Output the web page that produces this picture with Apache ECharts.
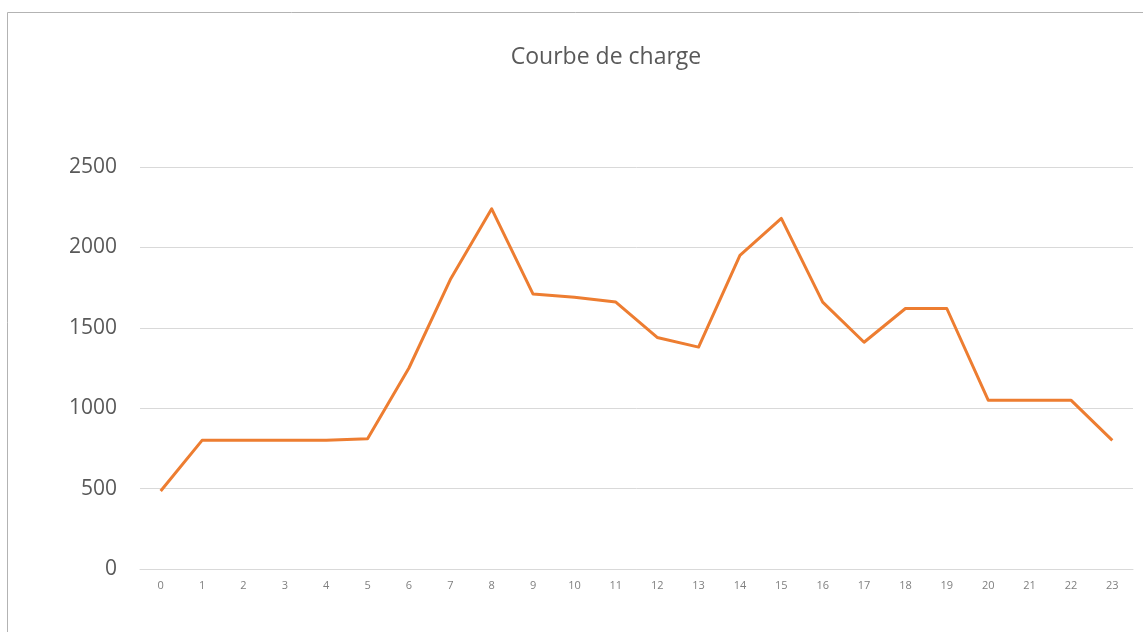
<!DOCTYPE html>
<html>
<head>
<meta charset="utf-8">
<script src="https://cdn.jsdelivr.net/npm/echarts@6/dist/echarts.min.js"></script>
<style>
html,body{margin:0;padding:0;background:#fff;}
#chart{width:1143px;height:632px;}
</style>
</head>
<body>
<div id="chart"></div>
<script>
const titleText = "Courbe de charge";
const hours = ["0","1","2","3","4","5","6","7","8","9","10","11","12","13","14","15","16","17","18","19","20","21","22","23"];
const load = [485, 800, 800, 800, 800, 810, 1250, 1800, 2240, 1710, 1690, 1660, 1440, 1380, 1950, 2180, 1660, 1410, 1620, 1620, 1050, 1050, 1050, 800];
const yMin = 0, yMax = 2500, yStep = 500;

const chart = echarts.init(document.getElementById('chart'));
chart.setOption({
  animation: false,
  backgroundColor: '#fff',
  graphic: [{
    type: 'rect',
    shape: {x: 7.5, y: 12.5, width: 1200, height: 700},
    style: {fill: 'none', stroke: '#b3b3b3', lineWidth: 1},
    silent: true
  }],
  title: {
    text: titleText,
    left: 601,
    textAlign: 'center',
    top: 41,
    textStyle: {fontFamily: 'Open Sans', fontSize: 23, fontWeight: 'normal', color: '#595959'}
  },
  grid: {left: 140, right: 10, top: 167, bottom: 63, containLabel: false},
  xAxis: {
    type: 'category',
    data: hours,
    boundaryGap: true,
    axisLine: {show: true, lineStyle: {color: '#d9d9d9', width: 1}},
    axisTick: {show: false},
    axisLabel: {fontFamily: 'Open Sans', fontSize: 11, color: '#7f7f7f', margin: 11}
  },
  yAxis: {
    type: 'value',
    min: yMin, max: yMax, interval: yStep,
    axisLine: {show: false},
    axisTick: {show: false},
    splitLine: {lineStyle: {color: '#d9d9d9', width: 1}},
    axisLabel: {fontFamily: 'Open Sans', fontSize: 21, color: '#595959', margin: 23,
      formatter: function (v) { return String(v); }}
  },
  series: [{
    type: 'line',
    data: load,
    symbol: 'none',
    lineStyle: {color: '#ED7D31', width: 3, join: 'round'},
    itemStyle: {color: '#ED7D31'}
  }]
});
</script>
</body>
</html>
